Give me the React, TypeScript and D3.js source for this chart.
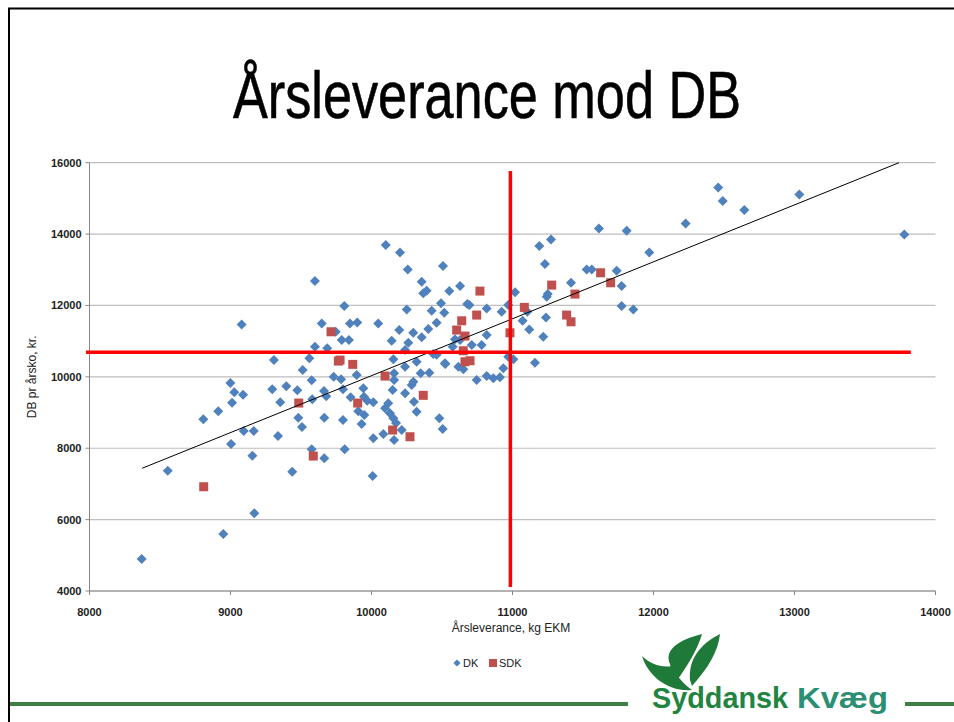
import React from 'react';
import * as d3 from 'd3';

const xTicks = [8000, 9000, 10000, 11000, 12000, 13000, 14000];
const yTicks = [4000, 6000, 8000, 10000, 12000, 14000, 16000];

const dkX = [8370, 8555, 8807, 8913, 8999, 9027, 9089, 9011, 9004, 9094, 9165, 9155, 9169, 8949, 9296, 9353, 9396, 9474, 9337, 9438, 9481, 9507, 9512, 9576, 9580, 9576, 9665, 9665, 9663, 9679, 9732, 9784, 9798, 9798, 9810, 9852, 9895, 9942, 9947, 9906, 9949, 9930, 9970, 10013, 10013, 10008, 10084, 10160, 10214, 10119, 10096, 10131, 10155, 10174, 10238, 10301, 10320, 10285, 10297, 10150, 10160, 10160, 10238, 10320, 10349, 10410, 10523, 10481, 10505, 10101, 10202, 10257, 10507, 9599, 10356, 10367, 10391, 10552, 10628, 9807, 10250, 10493, 10427, 10516, 10679, 9647, 9847, 9899, 10048, 10462, 10403, 10197, 10143, 10296, 10356, 10261, 9789, 9840, 9599, 9686, 10238, 10576, 9559, 9308, 10155, 10438, 10521, 10462, 10592, 11190, 11273, 11230, 11526, 11562, 11739, 11774, 11415, 11250, 11243, 11018, 10694, 10817, 10923, 10970, 11072, 11105, 11237, 11119, 11218, 11774, 11857, 10817, 10781, 10711, 10628, 11006, 10970, 11159, 10616, 10651, 10935, 10746, 10817, 10864, 10911, 11613, 11810, 11970, 9079, 9746, 12228, 12459, 12491, 12644, 13034, 13779];
const dkY = [4896, 7370, 8809, 9033, 9826, 9566, 9498, 9274, 8117, 8482, 8482, 7790, 6176, 5597, 9650, 9286, 9734, 9622, 8342, 7342, 8854, 8594, 10190, 9902, 9369, 7969, 7717, 8854, 9602, 9454, 10003, 9930, 9650, 8790, 7969, 9426, 10050, 9678, 9442, 9033, 8930, 8678, 9330, 9286, 8277, 7221, 8398, 8230, 8510, 9257, 9117, 8977, 8837, 8706, 9538, 9302, 9022, 9770, 9862, 9630, 9910, 10098, 10283, 10423, 10098, 10115, 10358, 8837, 8538, 13691, 13487, 13011, 13103, 12683, 12663, 12339, 12412, 12403, 12543, 11983, 11890, 12059, 11851, 11795, 12039, 11498, 11498, 11526, 11498, 11515, 11339, 11311, 11011, 11235, 11106, 10955, 11031, 11031, 10843, 10798, 10750, 10843, 10518, 10470, 10490, 10638, 10378, 10619, 11050, 13663, 13851, 13159, 13011, 13011, 12972, 12543, 12636, 12319, 12243, 12367, 12011, 11918, 11823, 12011, 11571, 11823, 11666, 11330, 11123, 11983, 11890, 11171, 10890, 10890, 11031, 10490, 10563, 10395, 10283, 10210, 10238, 9910, 10022, 9958, 9986, 14159, 14092, 13487, 11470, 11263, 14299, 15308, 14924, 14672, 15112, 13991];

const sdkX = [8810, 9484, 9587, 9902, 9765, 9867, 10096, 10367, 10150, 10273, 10663, 10699, 9713, 9777, 10640, 10604, 10651, 10769, 11278, 11443, 11625, 11696, 11084, 10746, 10663, 10982, 11384, 11415];
const sdkY = [6921, 9266, 7781, 9266, 10442, 10350, 10022, 9482, 8510, 8322, 10423, 10451, 11263, 10470, 11571, 11311, 10731, 12403, 12571, 12319, 12916, 12636, 11946, 11731, 11143, 11235, 11731, 11543];

const trendSlope = 1.595;
const trendIntercept = -5917;
const trendXStart = 8374;

const refHValue = 10690;
const refHFrom = 7975;
const refHTo = 13825;
const refVValue = 10985;
const refVFrom = 4110;
const refVTo = 15765;

const W = 954;
const H = 722;

export default function App() {
  const x = d3.scaleLinear().domain([8000, 14000]).range([89.5, 935.5]);
  const y = d3.scaleLinear().domain([4000, 16000]).range([591, 162.7]);

  const diamond = d3.symbol().type(d3.symbolSquare).size(50)() as string;
  const diamondSmall = d3.symbol().type(d3.symbolSquare).size(26)() as string;

  const trendXEnd = (y.domain()[1] - trendIntercept) / trendSlope;
  const trendLine = d3.line<number>()
    .x((d) => x(d))
    .y((d) => y(trendSlope * d + trendIntercept))([trendXStart, trendXEnd]) as string;

  const tickFont = "'Liberation Sans', Arial, sans-serif";
  const narrow = "'Liberation Sans Narrow', 'Arial Narrow', 'Liberation Sans', sans-serif";

  return (
    <svg width={W} height={H} style={{ position: 'absolute', left: 0, top: 0, background: '#fff' }}>
      <rect x={0} y={0} width={W} height={H} fill="#fff" />
      {/* slide border */}
      <line x1={8} y1={8.5} x2={W} y2={8.5} stroke="#000" strokeWidth={2} />
      <line x1={9} y1={8} x2={9} y2={H} stroke="#000" strokeWidth={2} />

      {/* title */}
      <text x={487} y={118} textAnchor="middle" fontFamily={narrow} fontSize={66}
        textLength={508} lengthAdjust="spacingAndGlyphs" fill="#000" stroke="#000" strokeWidth={0.6}>Årsleverance mod DB</text>

      {/* gridlines */}
      {yTicks.map((t) => (
        <line key={'g' + t} x1={x(8000)} x2={x(14000)} y1={y(t)} y2={y(t)} stroke="#BEBEBE" strokeWidth={1.2} />
      ))}
      {/* axes */}
      <line x1={x(8000)} x2={x(8000)} y1={y(16000)} y2={y(4000)} stroke="#868686" strokeWidth={1} />
      <line x1={x(8000)} x2={x(14000)} y1={y(4000)} y2={y(4000)} stroke="#868686" strokeWidth={1} />
      {yTicks.map((t) => (
        <line key={'yt' + t} x1={x(8000) - 4} x2={x(8000)} y1={y(t)} y2={y(t)} stroke="#868686" />
      ))}
      {xTicks.map((t) => (
        <line key={'xt' + t} x1={x(t)} x2={x(t)} y1={y(4000)} y2={y(4000) + 4} stroke="#868686" />
      ))}
      {yTicks.map((t) => (
        <text key={'yl' + t} x={x(8000) - 8} y={y(t) + 4} textAnchor="end" fontFamily={tickFont}
          fontWeight="bold" fontSize={11} fill="#222">{t}</text>
      ))}
      {xTicks.map((t) => (
        <text key={'xl' + t} x={x(t)} y={y(4000) + 25} textAnchor="middle" fontFamily={tickFont}
          fontWeight="bold" fontSize={11} fill="#222">{t}</text>
      ))}
      <text x={511} y={632} textAnchor="middle" fontFamily={tickFont} fontSize={12} fill="#222">Årsleverance, kg EKM</text>
      <text transform={`translate(36,${(y(4000) + y(16000)) / 2}) rotate(-90)`} textAnchor="middle"
        fontFamily={tickFont} fontSize={12} fill="#222">DB pr årsko, kr.</text>

      {/* DK series */}
      {dkX.map((v, i) => (
        <path key={'dk' + i} d={diamond} transform={`translate(${x(v)},${y(dkY[i])}) rotate(45)`} fill="#4F81BD" />
      ))}
      {/* SDK series */}
      {sdkX.map((v, i) => (
        <rect key={'sdk' + i} x={x(v) - 4.5} y={y(sdkY[i]) - 4.5} width={9} height={9} fill="#C0504D" />
      ))}

      {/* trendline */}
      <path d={trendLine} fill="none" stroke="#000" strokeWidth={1} />

      {/* reference lines */}
      <line x1={x(refHFrom)} x2={x(refHTo)} y1={y(refHValue)} y2={y(refHValue)} stroke="#FF0000" strokeWidth={3.5} />
      <line x1={x(refVValue)} x2={x(refVValue)} y1={y(refVFrom)} y2={y(refVTo)} stroke="#FF0000" strokeWidth={3.5} />

      {/* legend */}
      <path d={diamondSmall} transform="translate(457,663) rotate(45)" fill="#4F81BD" />
      <text x={463} y={667} fontFamily={tickFont} fontSize={11} fill="#222">DK</text>
      <rect x={489} y={659} width={8} height={8} fill="#C0504D" />
      <text x={499} y={667} fontFamily={tickFont} fontSize={11} fill="#222">SDK</text>

      {/* bottom green rule */}
      <line x1={10} x2={628} y1={704} y2={704} stroke="#3F7F45" strokeWidth={4} />
      <line x1={905} x2={W} y1={704} y2={704} stroke="#3F7F45" strokeWidth={4} />

      {/* logo */}
      <g>
        <path d="M 642,656 C 648,676 668,692 692,690 C 684,684 676,676 672,666 C 662,668 650,664 642,656 Z" fill="#1F7A3A" />
        <path d="M 670,664 C 664,650 678,640 702,634 C 698,648 690,662 676,682 C 673,676 671,670 670,664 Z" fill="#1F7A3A" />
        <path d="M 690,680 C 688,660 700,644 720,634 C 718,652 708,668 692,686 Z" fill="#1F7A3A" />
        <text x={652} y={708} fontFamily={narrow} fontSize={29} fontWeight="bold" textLength={136}
          lengthAdjust="spacingAndGlyphs" fill="#1F8540">Syddansk</text>
        <text x={797} y={708} fontFamily={narrow} fontSize={29} fontWeight="bold" textLength={91}
          lengthAdjust="spacingAndGlyphs" fill="#2C8E73">Kvæg</text>
      </g>
    </svg>
  );
}
